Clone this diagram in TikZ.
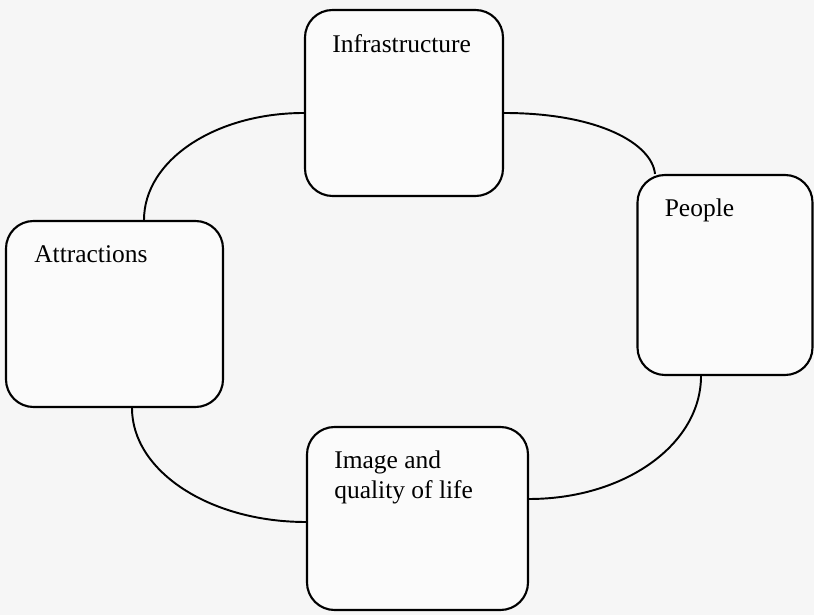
\documentclass[tikz,border=0pt]{standalone}
\usepackage{fontspec}
\setmainfont{Liberation Serif}
\usetikzlibrary{positioning}

\tikzset{
  blob/.style={draw, line width=1.2pt, rounded corners=0.55cm, fill=gray!3, inner sep=0pt},
  blobtext/.style={inner sep=0pt, align=left, font=\fontsize{14.5}{17}\selectfont},
  link/.style={line width=1.1pt}
}

\begin{document}
\begin{tikzpicture}
\useasboundingbox[fill=gray!7] (0,0) rectangle (16.28,12.3);
% the four boxes
\node[blob, minimum width=3.96cm, minimum height=3.72cm] (infra) at (8.08,10.24) {};
\node[blob, minimum width=4.34cm, minimum height=3.72cm] (attr) at (2.29,6.02) {};
\node[blob, minimum width=3.5cm, minimum height=4.0cm] (people) at (14.5,6.8) {};
\node[blob, minimum width=4.42cm, minimum height=3.66cm] (image) at (8.35,1.93) {};
% their titles, top left
\node[blobtext, below right=0.5cm and 0.56cm of infra.north west] (infratext) {Infrastructure};
\node[blobtext, below right=0.5cm and 0.58cm of attr.north west] (attrtext) {Attractions};
\node[blobtext, below right=0.5cm and 0.56cm of people.north west] (peopletext) {People};
\node[blobtext, below right=0.5cm and 0.56cm of image.north west] (imagetext) {Image and\\quality of life};
% the ring between them
\draw[link] ([yshift=-0.2cm]infra.west) .. controls +(-1.78,0) and +(0,1.19) .. ([xshift=0.59cm]attr.north);
\draw[link] ([yshift=-0.2cm]infra.east) .. controls +(1.9,0) and +(-0.06,0.6) .. ([xshift=-1.4cm]people.north);
\draw[link] ([xshift=-0.48cm]people.south) .. controls +(0,-1.37) and +(1.91,0) .. ([yshift=0.39cm]image.east);
\draw[link] ([yshift=-0.07cm]image.west) .. controls +(-1.93,0) and +(0,-1.26) .. ([xshift=0.35cm]attr.south);
\end{tikzpicture}
\end{document}
